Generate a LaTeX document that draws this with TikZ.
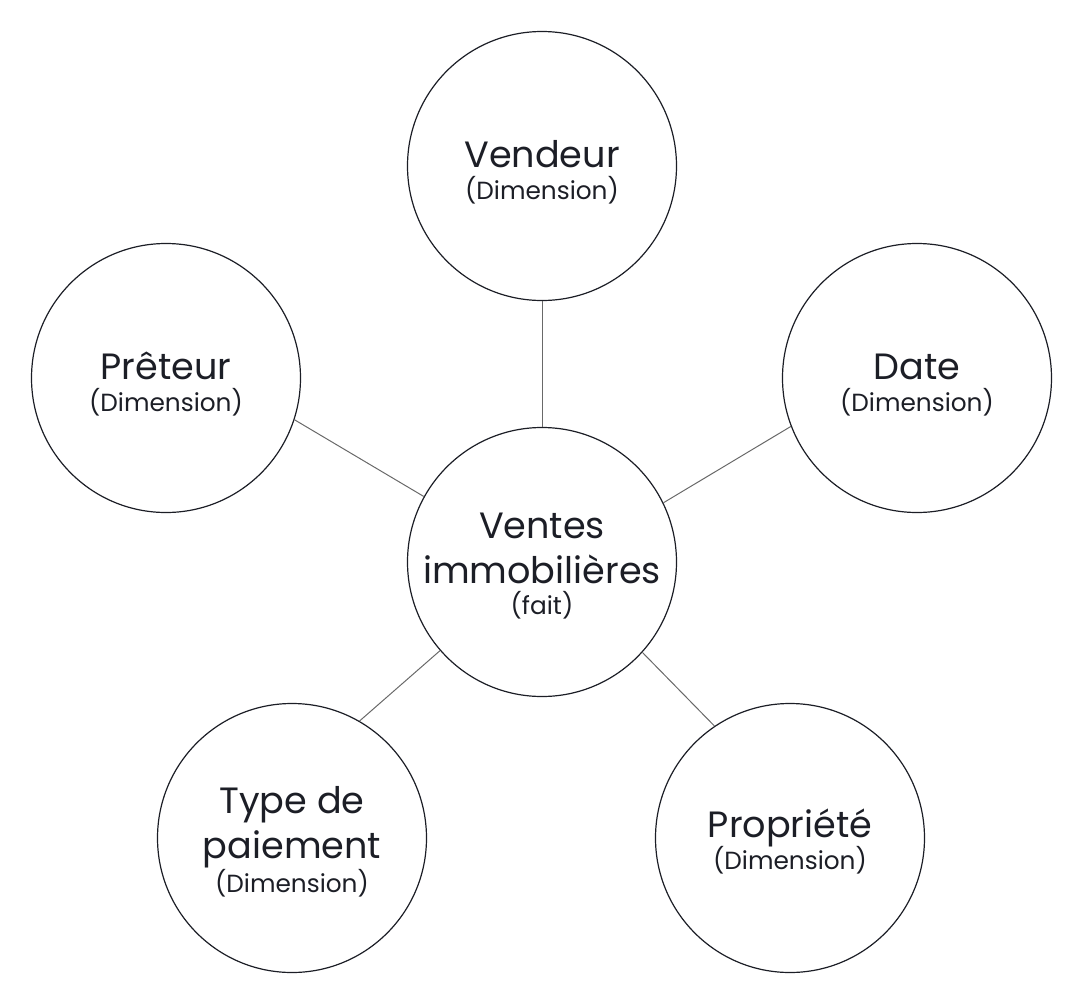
\documentclass[tikz,border=0pt]{standalone}
\usepackage{fontspec}
\setmainfont{Poppins}
\usetikzlibrary{positioning}
\definecolor{ink}{RGB}{28,30,38}
\definecolor{linkgray}{RGB}{105,105,105}
\newcommand{\topstrut}[1][20pt]{\rule{0pt}{#1}}
\newcommand{\dimtag}[2][-6.3pt]{\\[#1]{\fontsize{12.4}{14}\selectfont (#2)}}

\begin{document}
\begin{tikzpicture}[x=0.5pt, y=-0.5pt,
    circ/.style={circle, draw=ink, line width=0.6pt, minimum size=134.5pt, inner sep=0pt, align=center, text=ink, font=\fontsize{18.3}{22.5}\selectfont},
    link/.style={draw=linkgray, line width=0.5pt}]

\useasboundingbox (0,0) rectangle (1084,992);

% Nodes
\node [circ] (ventes) at (542,562) {\topstrut[17pt]Ventes\\immobilières\dimtag[-7pt]{fait}};
\node [circ] (vendeur) at (542,166) {\topstrut Vendeur\dimtag{Dimension}};
\node [circ] (preteur) at (166,378) {\topstrut Prêteur\dimtag{Dimension}};
\node [circ] (date) at (917,378) {\topstrut Date\dimtag{Dimension}};
\node [circ] (paiement) at (292,838) {\topstrut[17.5pt]Type de\\paiement\dimtag[-5.5pt]{Dimension}};
\node [circ] (propriete) at (790,838) {\topstrut[18pt]Propriété\dimtag{Dimension}};

% Connectors
\draw[link] (vendeur.south) -- (ventes.north);
\draw[link] (preteur.-18.8) -- (ventes.151.7);
\draw[link] (date.201.4) -- (ventes.26.4);
\draw[link] (paiement.60) -- (ventes.221.7);
\draw[link] (propriete.124.3) -- (ventes.-42);

\end{tikzpicture}
\end{document}
